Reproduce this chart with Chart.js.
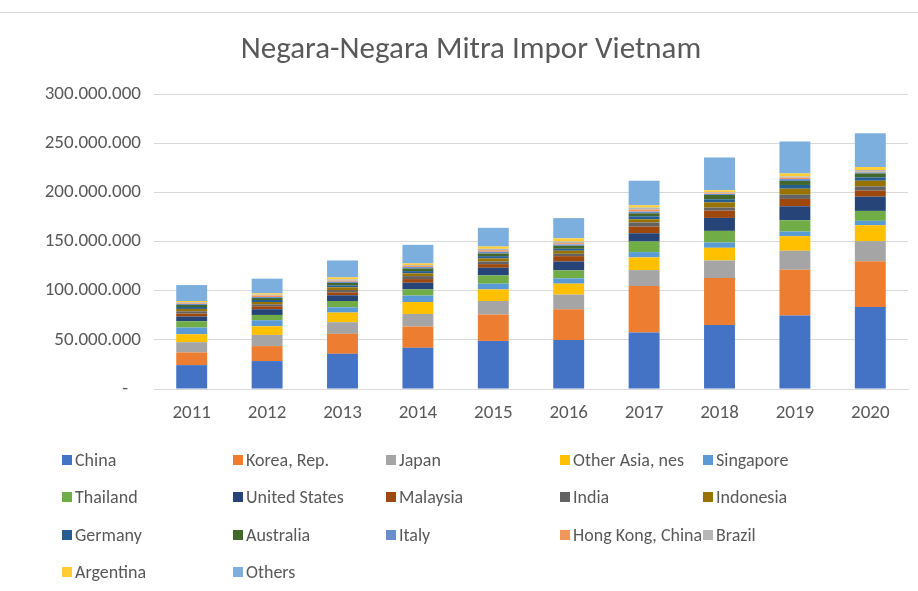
<!DOCTYPE html>
<html><head><meta charset="utf-8">
<script src="https://cdn.jsdelivr.net/npm/chart.js@4.4.1/dist/chart.umd.min.js"></script>
<style>
html,body{margin:0;padding:0;background:#fff;}
#wrap{position:relative;width:918px;height:591px;overflow:hidden;background:#fff;}
#c{position:absolute;left:0;top:0;}
#frame{position:absolute;left:0;top:12px;width:918px;height:1px;background:#d9d9d9;}
#legend{position:absolute;left:0;top:0;width:918px;height:591px;pointer-events:none;font-family:Carlito,Lato,sans-serif;font-size:18px;color:#595959;}
.li{position:absolute;display:flex;align-items:center;white-space:nowrap;height:20px;}
.sw{width:10px;height:10px;margin-right:3px;}
</style></head>
<body><div id="wrap"><canvas id="c" width="918" height="591"></canvas><div id="frame"></div><div id="legend"></div></div>
<script>
const chartTitle = 'Negara-Negara Mitra Impor Vietnam';
const years = ['2011','2012','2013','2014','2015','2016','2017','2018','2019','2020'];
const yTickLabels = ['-   ','50.000.000','100.000.000','150.000.000','200.000.000','250.000.000','300.000.000'];

const seriesNames = ['China','Korea, Rep.','Japan','Other Asia, nes','Singapore','Thailand','United States','Malaysia','India','Indonesia','Germany','Australia','Italy','Hong Kong, China','Brazil','Argentina','Others'];
const seriesColors = ['#4472C4','#ED7D31','#A5A5A5','#FFC000','#5B9BD5','#70AD47','#264478','#9E480E','#636363','#997300','#255E91','#43682B','#698ED0','#F1975A','#B7B7B7','#FFCD33','#7CAFDD'];

const china        = [24300000,28400000,35800000,41900000,48900000,49800000,57400000,65200000,74700000,83400000];
const korea        = [12900000,15200000,20300000,21600000,26800000,31300000,47300000,47600000,46600000,46600000];
const japan        = [10400000,11400000,11800000,12800000,13800000,14900000,16200000,17900000,19300000,20300000];
const otherAsia    = [8100000,8800000,9800000,12200000,11800000,11100000,12900000,12900000,14800000,16200000];
const singapore    = [6800000,6100000,5400000,6500000,5800000,5400000,5400000,5400000,4700000,4500000];
const thailand     = [6400000,5400000,6400000,6300000,8400000,8100000,10800000,11800000,11500000,10100000];
const unitedStates = [4800000,5800000,5800000,6800000,7800000,9100000,8400000,13200000,14200000,14500000];
const malaysia     = [3000000,3000000,3000000,3700000,3700000,5400000,6800000,7400000,7500000,6100000];
const india        = [2300000,2000000,2400000,3000000,2700000,2400000,4100000,3100000,4300000,4300000];
const indonesia    = [2400000,2400000,2700000,2800000,3100000,3100000,3300000,5300000,6100000,5800000];
const germany      = [2000000,2000000,2000000,2300000,2300000,2000000,3000000,3100000,3800000,3400000];
const australia    = [2000000,2000000,2400000,2700000,2700000,3000000,3100000,4400000,4000000,4000000];
const italy        = [1100000,1000000,1300000,1400000,1800000,1400000,1700000,1000000,2000000,1000000];
const hongKong     = [700000,1500000,1100000,1000000,1600000,1300000,2000000,700000,1400000,700000];
const brazil       = [1000000,1000000,1300000,1000000,1400000,1700000,2100000,1000000,1300000,1800000];
const argentina    = [1300000,1300000,2000000,1700000,2300000,3200000,2300000,2000000,3000000,3000000];
const others       = [16200000,14900000,17200000,18900000,19000000,20600000,25000000,33500000,32500000,34500000];

const seriesValues = [china,korea,japan,otherAsia,singapore,thailand,unitedStates,malaysia,india,indonesia,germany,australia,italy,hongKong,brazil,argentina,others];

const FONT = 'Carlito, Lato, sans-serif';
Chart.defaults.font.family = FONT;
Chart.defaults.color = '#595959';

const datasets = seriesNames.map((n,i)=>({
  label:n, data:seriesValues[i], backgroundColor:seriesColors[i],
  borderWidth:0, barPercentage:0.41, categoryPercentage:1.0
}));

const titlePlugin = {
  id:'customTitle',
  afterDraw(chart){
    const ctx = chart.ctx;
    ctx.save();
    ctx.font = '31px ' + FONT;
    ctx.fillStyle = '#595959';
    ctx.textAlign = 'center';
    ctx.textBaseline = 'middle';
    ctx.fillText(chartTitle, 471, 50);
    ctx.restore();
  }
};

const chart = new Chart(document.getElementById('c'), {
  type:'bar',
  data:{labels:years, datasets},
  plugins:[titlePlugin],
  options:{
    responsive:false, animation:false,
    layout:{padding:{top:94,right:10,bottom:162,left:0}},
    plugins:{legend:{display:false}, title:{display:false}, tooltip:{enabled:false}},
    scales:{
      x:{stacked:true,
         grid:{display:false, drawTicks:false},
         border:{display:true,color:'#d9d9d9',width:1},
         ticks:{padding:13,font:{size:19},color:'#595959'},
         afterFit(s){s.height=40;}
      },
      y:{stacked:true,min:0,max:300000000,
         grid:{color:'#d9d9d9',lineWidth:1,drawTicks:false},
         border:{display:false},
         ticks:{stepSize:50000000,padding:13,font:{size:19},color:'#595959',
           callback:(v)=>yTickLabels[Math.round(v/50000000)]},
         afterFit(s){s.width=154;}
      }
    }
  }
});

// Legend (HTML, built from datasets)
const legendCols = [62,233,386,560,703];
const legendRows = [460,497,535,572];
const lg = document.getElementById('legend');
chart.data.datasets.forEach((d,i)=>{
  const r = Math.floor(i/5), c = i%5;
  const el = document.createElement('div');
  el.className='li';
  el.style.left = legendCols[c]+'px';
  el.style.top = (legendRows[r]-10)+'px';
  const sw = document.createElement('span'); sw.className='sw'; sw.style.background=d.backgroundColor;
  const tx = document.createElement('span'); tx.textContent=d.label;
  el.appendChild(sw); el.appendChild(tx); lg.appendChild(el);
});
</script>
</body></html>
